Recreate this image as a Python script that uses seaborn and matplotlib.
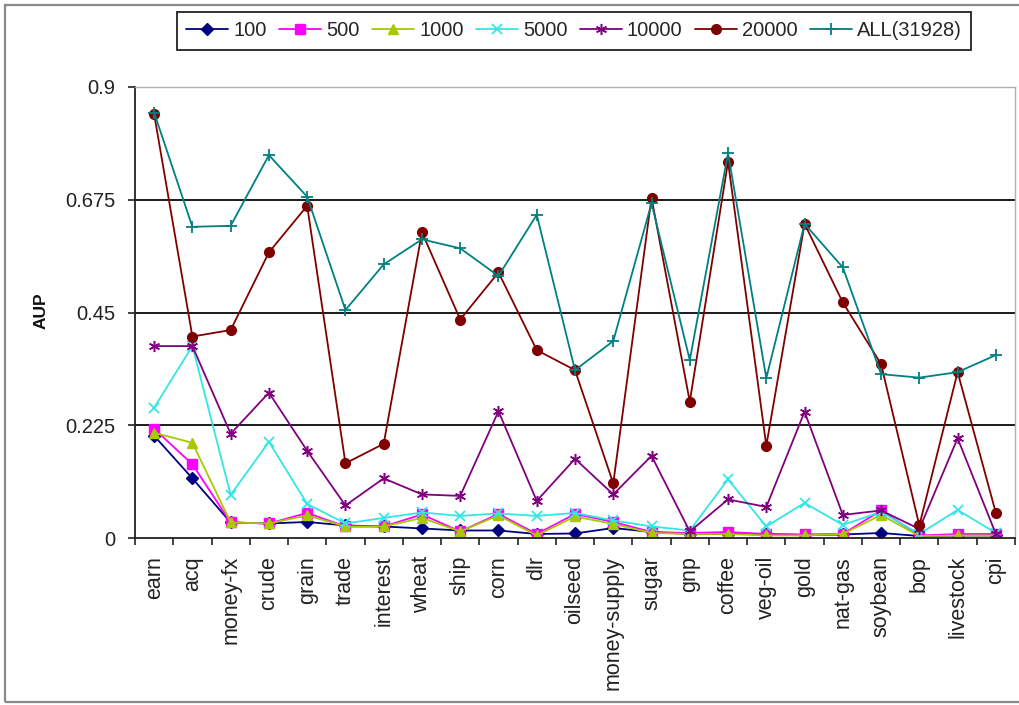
import numpy as np
import pandas as pd
import matplotlib
matplotlib.use("Agg")
import matplotlib.pyplot as plt
from matplotlib.patches import Rectangle
from matplotlib.ticker import FixedLocator
import seaborn as sns

categories = ["earn", "acq", "money-fx", "crude", "grain", "trade", "interest",
              "wheat", "ship", "corn", "dlr", "oilseed", "money-supply", "sugar",
              "gnp", "coffee", "veg-oil", "gold", "nat-gas", "soybean", "bop",
              "livestock", "cpi"]

aup_100 = [0.204, 0.119, 0.031, 0.029, 0.032, 0.025, 0.023, 0.019, 0.015, 0.015,
           0.008, 0.009, 0.020, 0.012, 0.008, 0.008, 0.008, 0.006, 0.007, 0.010,
           0.004, 0.005, 0.005]
aup_500 = [0.218, 0.147, 0.031, 0.029, 0.050, 0.023, 0.023, 0.047, 0.013, 0.048,
           0.008, 0.048, 0.032, 0.012, 0.010, 0.012, 0.008, 0.007, 0.008, 0.055,
           0.005, 0.008, 0.008]
aup_1000 = [0.210, 0.190, 0.031, 0.029, 0.045, 0.023, 0.023, 0.040, 0.013, 0.045,
            0.005, 0.043, 0.028, 0.010, 0.008, 0.008, 0.005, 0.005, 0.008, 0.046,
            0.004, 0.005, 0.005]
aup_5000 = [0.260, 0.383, 0.086, 0.192, 0.068, 0.029, 0.040, 0.051, 0.044, 0.049,
            0.044, 0.050, 0.035, 0.023, 0.015, 0.117, 0.023, 0.070, 0.026, 0.052,
            0.008, 0.056, 0.010]
aup_10000 = [0.383, 0.383, 0.208, 0.290, 0.174, 0.065, 0.119, 0.087, 0.084, 0.253,
             0.074, 0.158, 0.087, 0.164, 0.013, 0.077, 0.062, 0.252, 0.046, 0.055,
             0.018, 0.199, 0.008]
aup_20000 = [0.846, 0.402, 0.415, 0.570, 0.663, 0.149, 0.188, 0.610, 0.436, 0.530,
             0.375, 0.335, 0.109, 0.679, 0.272, 0.751, 0.184, 0.627, 0.470, 0.347,
             0.025, 0.331, 0.050]
aup_all = [0.849, 0.621, 0.623, 0.764, 0.681, 0.455, 0.546, 0.596, 0.578, 0.523,
           0.645, 0.335, 0.393, 0.668, 0.355, 0.768, 0.319, 0.627, 0.540, 0.327,
           0.320, 0.331, 0.365]

series_names = ["100", "500", "1000", "5000", "10000", "20000", "ALL(31928)"]
series_values = [aup_100, aup_500, aup_1000, aup_5000, aup_10000, aup_20000, aup_all]
y_ticks = [0, 0.225, 0.45, 0.675, 0.9]
y_tick_labels = ["0", "0.225", "0.45", "0.675", "0.9"]

# Excel-like series styling
styles = {
    "100":        dict(color="#000080", marker="D", ms=6.0, mew=1.0),
    "500":        dict(color="#ff00ff", marker="s", ms=6.5, mew=1.0),
    "1000":       dict(color="#a8c800", marker="^", ms=7.5, mew=1.0),
    "5000":       dict(color="#33e6e6", marker="x", ms=7.0, mew=1.3),
    "10000":      dict(color="#800080", marker=(6, 2, 0), ms=8.0, mew=1.1),
    "20000":      dict(color="#800000", marker="o", ms=7.0, mew=1.0),
    "ALL(31928)": dict(color="#008080", marker="+", ms=8.5, mew=1.3),
}

frames = []
for name, vals in zip(series_names, series_values):
    frames.append(pd.DataFrame({"pos": np.arange(len(categories)),
                                "category": categories,
                                "AUP": vals,
                                "series": name}))
df = pd.concat(frames, ignore_index=True)

sns.set_style("white")
plt.rcParams["font.family"] = ["Liberation Sans", "DejaVu Sans"]

fig = plt.figure(figsize=(10.19, 7.05), dpi=100)
ax = fig.add_axes([135 / 1019, 1 - 538 / 705, (1015 - 135) / 1019, (538 - 87) / 705])

for name in series_names:
    st = styles[name]
    sub = df[df["series"] == name]
    sns.lineplot(data=sub, x="pos", y="AUP", ax=ax, sort=False, estimator=None,
                 color=st["color"], marker=st["marker"], markersize=st["ms"],
                 markeredgewidth=st["mew"], markeredgecolor=st["color"],
                 markerfacecolor=st["color"], linewidth=1.3, label=name)

ax.set_xlim(-0.5, len(categories) - 0.5)
ax.set_ylim(0, 0.9)

ax.set_xticks(np.arange(len(categories)))
ax.set_xticklabels(categories, rotation=90, fontsize=15.5, color="#222222")
ax.xaxis.set_minor_locator(FixedLocator(np.arange(len(categories) + 1) - 0.5))
ax.tick_params(axis="x", which="major", length=0, pad=13)
ax.tick_params(axis="x", which="minor", length=5, width=1.2, color="#222222",
               direction="out", bottom=True)

ax.set_yticks(y_ticks)
ax.set_yticklabels(y_tick_labels, fontsize=14.5, color="#222222")
ax.tick_params(axis="y", length=5, width=1.2, color="#222222", direction="out",
               left=True, pad=9)

for y in y_ticks[1:-1]:
    ax.axhline(y, color="#1a1a1a", linewidth=1.4, zorder=0.5)

for side in ["left", "bottom"]:
    ax.spines[side].set_color("#222222")
    ax.spines[side].set_linewidth(1.3)
for side in ["top", "right"]:
    ax.spines[side].set_color("#b0b0b0")
    ax.spines[side].set_linewidth(1.0)

ax.set_xlabel("")
ax.set_ylabel("AUP", fontsize=12.5, fontweight="bold", color="#111111")
ax.yaxis.set_label_coords(-0.098, 0.505)

handles, labels = ax.get_legend_handles_labels()
if ax.get_legend():
    ax.get_legend().remove()
leg = fig.legend(handles, labels, loc="center", ncol=7,
                 bbox_to_anchor=((168 + 980) / 2 / 1019, 1 - 31 / 705),
                 fontsize=14.5, frameon=True, fancybox=False, framealpha=1,
                 edgecolor="#222222", handlelength=2.1, handletextpad=0.25,
                 columnspacing=0.6, borderpad=0.45)
leg.get_frame().set_linewidth(1.3)

# outer chart border
fig.patches.append(Rectangle((5 / 1019, 3 / 705), 1.2, 1 - 8 / 705,
                             transform=fig.transFigure, fill=False,
                             edgecolor="#8a8a8a", linewidth=1.6))

fig.savefig("out.png", dpi=100)
